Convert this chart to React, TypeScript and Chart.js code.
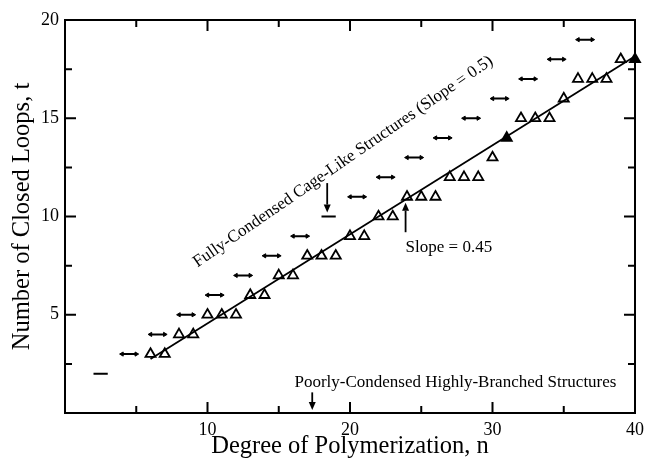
import React, { useEffect, useRef } from "react";
import { Chart, registerables } from "chart.js";

Chart.register(...registerables);

// Observed structures (triangles)
const loopN = [6, 7, 8, 9, 10, 11, 12, 13, 14, 15, 16, 17, 18, 19, 20, 21, 22, 23, 24, 25, 26, 27, 28, 29, 30, 31, 32, 33, 34, 35, 36, 37, 38, 39, 40];
const loopT = [3, 3, 4, 4, 5, 5, 5, 6, 6, 7, 7, 8, 8, 8, 9, 9, 10, 10, 11, 11, 11, 12, 12, 12, 13, 14, 15, 15, 15, 16, 17, 17, 17, 18, 18];
const filledLoopN = [31, 40];

// Fully-condensed cage-like structures (horizontal dashes)
const cageT = [2, 3, 4, 5, 6, 7, 8, 9, 10, 11, 12, 13, 14, 15, 16, 17, 18, 19];
const cageFrom = [2, 4, 6, 8, 10, 12, 14, 16, 18, 20, 22, 24, 26, 28, 30, 32, 34, 36];
const cageTo = [3, 5, 7, 9, 11, 13, 15, 17, 19, 21, 23, 25, 27, 29, 31, 33, 35, 37];
const cagePlainT = [2, 10];

// Fitted line (slope = 0.45)
const fitN = [6, 40];
const fitT = [2.75, 18.15];

// Axis ticks
const xTicks = [10, 20, 30, 40];
const yTicks = [5, 10, 15, 20];
const xMinor = [5, 15, 25, 35];
const yMinor = [2.5, 7.5, 12.5, 17.5];

const FONT = "'Liberation Serif', 'Times New Roman', serif";

function arrow(ctx: CanvasRenderingContext2D, x: number, y1: number, y2: number) {
  const dir = y2 > y1 ? 1 : -1;
  const head = 8;
  ctx.beginPath();
  ctx.moveTo(x, y1);
  ctx.lineTo(x, y2 - dir * head);
  ctx.lineWidth = 1.8;
  ctx.strokeStyle = "#000";
  ctx.stroke();
  ctx.beginPath();
  ctx.moveTo(x, y2);
  ctx.lineTo(x - 3.5, y2 - dir * head);
  ctx.lineTo(x + 3.5, y2 - dir * head);
  ctx.closePath();
  ctx.fillStyle = "#000";
  ctx.fill();
}

const framePlugin = {
  id: "frameAndNotes",
  afterDraw(chart: any) {
    const { ctx, chartArea: a, scales } = chart;
    const xs = scales.x;
    const ys = scales.y;
    ctx.save();
    ctx.strokeStyle = "#000";
    ctx.lineWidth = 2;
    ctx.strokeRect(a.left, a.top, a.right - a.left, a.bottom - a.top);
    const major = 11;
    const minor = 7;
    ctx.lineWidth = 2;
    const tickX = (v: number, len: number) => {
      const px = xs.getPixelForValue(v);
      ctx.beginPath();
      ctx.moveTo(px, a.bottom);
      ctx.lineTo(px, a.bottom - len);
      ctx.moveTo(px, a.top);
      ctx.lineTo(px, a.top + len);
      ctx.stroke();
    };
    const tickY = (v: number, len: number) => {
      const py = ys.getPixelForValue(v);
      ctx.beginPath();
      ctx.moveTo(a.left, py);
      ctx.lineTo(a.left + len, py);
      ctx.moveTo(a.right, py);
      ctx.lineTo(a.right - len, py);
      ctx.stroke();
    };
    xTicks.forEach((v) => tickX(v, major));
    xMinor.forEach((v) => tickX(v, minor));
    yTicks.forEach((v) => tickY(v, major));
    yMinor.forEach((v) => tickY(v, minor));

    // Annotations
    ctx.fillStyle = "#000";
    ctx.font = `17px ${FONT}`;
    ctx.textBaseline = "alphabetic";
    ctx.textAlign = "left";

    // rotated label along cage line
    const p0x = xs.getPixelForValue(0);
    const p0y = ys.getPixelForValue(0);
    const p1x = xs.getPixelForValue(2);
    const p1y = ys.getPixelForValue(1);
    const ang = Math.atan2(p1y - p0y, p1x - p0x);
    ctx.save();
    ctx.translate(xs.getPixelForValue(9.3), ys.getPixelForValue(7.4));
    ctx.rotate(ang);
    ctx.fillText("Fully-Condensed Cage-Like Structures (Slope = 0.5)", 0, 0);
    ctx.restore();

    // down arrow to t=10 cage dash
    arrow(ctx, xs.getPixelForValue(18.4), ys.getPixelForValue(11.7), ys.getPixelForValue(10.2));
    // up arrow to fit line
    arrow(ctx, xs.getPixelForValue(23.9), ys.getPixelForValue(9.2), ys.getPixelForValue(10.7));
    ctx.fillText("Slope = 0.45", xs.getPixelForValue(23.9), ys.getPixelForValue(8.2));

    ctx.fillText("Poorly-Condensed Highly-Branched Structures", xs.getPixelForValue(16.1), ys.getPixelForValue(1.3));
    arrow(ctx, xs.getPixelForValue(17.35), ys.getPixelForValue(1.05), ys.getPixelForValue(0.15));
    ctx.restore();
  },
};

export default function App() {
  const ref = useRef<HTMLCanvasElement | null>(null);

  useEffect(() => {
    if (!ref.current) return;

    const loopData = loopN.map((n, i) => ({ x: n, y: loopT[i] }));
    const cageData: any[] = [];
    cageT.forEach((t, i) => {
      cageData.push({ x: cageFrom[i], y: t, end: "L" });
      cageData.push({ x: cageTo[i], y: t, end: "R" });
      cageData.push({ x: cageTo[i] + 0.5, y: null });
    });
    const fitData = fitN.map((n, i) => ({ x: n, y: fitT[i] }));

    const chart = new Chart(ref.current, {
      type: "scatter",
      data: {
        datasets: [
          {
            label: "Fit",
            data: fitData,
            showLine: true,
            borderColor: "#000",
            borderWidth: 1.8,
            pointRadius: 0,
            clip: false,
          } as any,
          {
            label: "Cage",
            data: cageData,
            showLine: true,
            spanGaps: false,
            borderColor: "#000",
            borderWidth: 2,
            pointStyle: "triangle",
            pointRadius: (c: any) => {
              const r = c.raw;
              if (!r || r.y == null) return 0;
              return cagePlainT.includes(r.y) ? 0 : 2.4;
            },
            pointRotation: (c: any) => (c.raw && c.raw.end === "L" ? -90 : 90),
            pointBackgroundColor: "#000",
            pointBorderColor: "#000",
            pointBorderWidth: 1,
            clip: false,
          } as any,
          {
            label: "Observed",
            data: loopData,
            showLine: false,
            pointStyle: "triangle",
            pointRadius: 5.8,
            pointBorderColor: "#000",
            pointBorderWidth: 1.8,
            pointBackgroundColor: (c: any) =>
              c.raw && filledLoopN.includes(c.raw.x) ? "#000" : "rgba(255,255,255,0)",
            clip: false,
          } as any,
        ],
      },
      options: {
        responsive: false,
        animation: false,
        events: [],
        layout: { padding: { top: 20, right: 13, left: 0, bottom: 0 } },
        plugins: { legend: { display: false }, tooltip: { enabled: false } },
        scales: {
          x: {
            type: "linear",
            min: 0,
            max: 40,
            afterBuildTicks: (s: any) => {
              s.ticks = xTicks.map((v) => ({ value: v }));
            },
            afterFit: (s: any) => {
              s.height = 46;
            },
            ticks: {
              color: "#000",
              font: { family: FONT, size: 18 },
              padding: 6,
              maxRotation: 0,
              autoSkip: false,
            },
            grid: { display: false, drawTicks: false },
            border: { display: false },
            title: {
              display: true,
              text: "Degree of Polymerization, n",
              color: "#000",
              font: { family: FONT, size: 24.5, lineHeight: 1 },
              padding: { top: 0, bottom: 0 },
            },
          },
          y: {
            type: "linear",
            min: 0,
            max: 20,
            afterBuildTicks: (s: any) => {
              s.ticks = yTicks.map((v) => ({ value: v }));
            },
            afterFit: (s: any) => {
              s.width = 65;
            },
            ticks: {
              color: "#000",
              font: { family: FONT, size: 18 },
              padding: 6,
              autoSkip: false,
            },
            grid: { display: false, drawTicks: false },
            border: { display: false },
            title: {
              display: true,
              text: "Number of Closed Loops, t",
              color: "#000",
              font: { family: FONT, size: 24.5, lineHeight: 1 },
              padding: { top: 10, bottom: 0 },
            },
          },
        },
      } as any,
      plugins: [framePlugin],
    });

    return () => chart.destroy();
  }, []);

  return (
    <div style={{ position: "fixed", left: 0, top: 0, width: 650, height: 459, background: "#fff" }}>
      <canvas ref={ref} width={650} height={459} style={{ display: "block" }} />
    </div>
  );
}
